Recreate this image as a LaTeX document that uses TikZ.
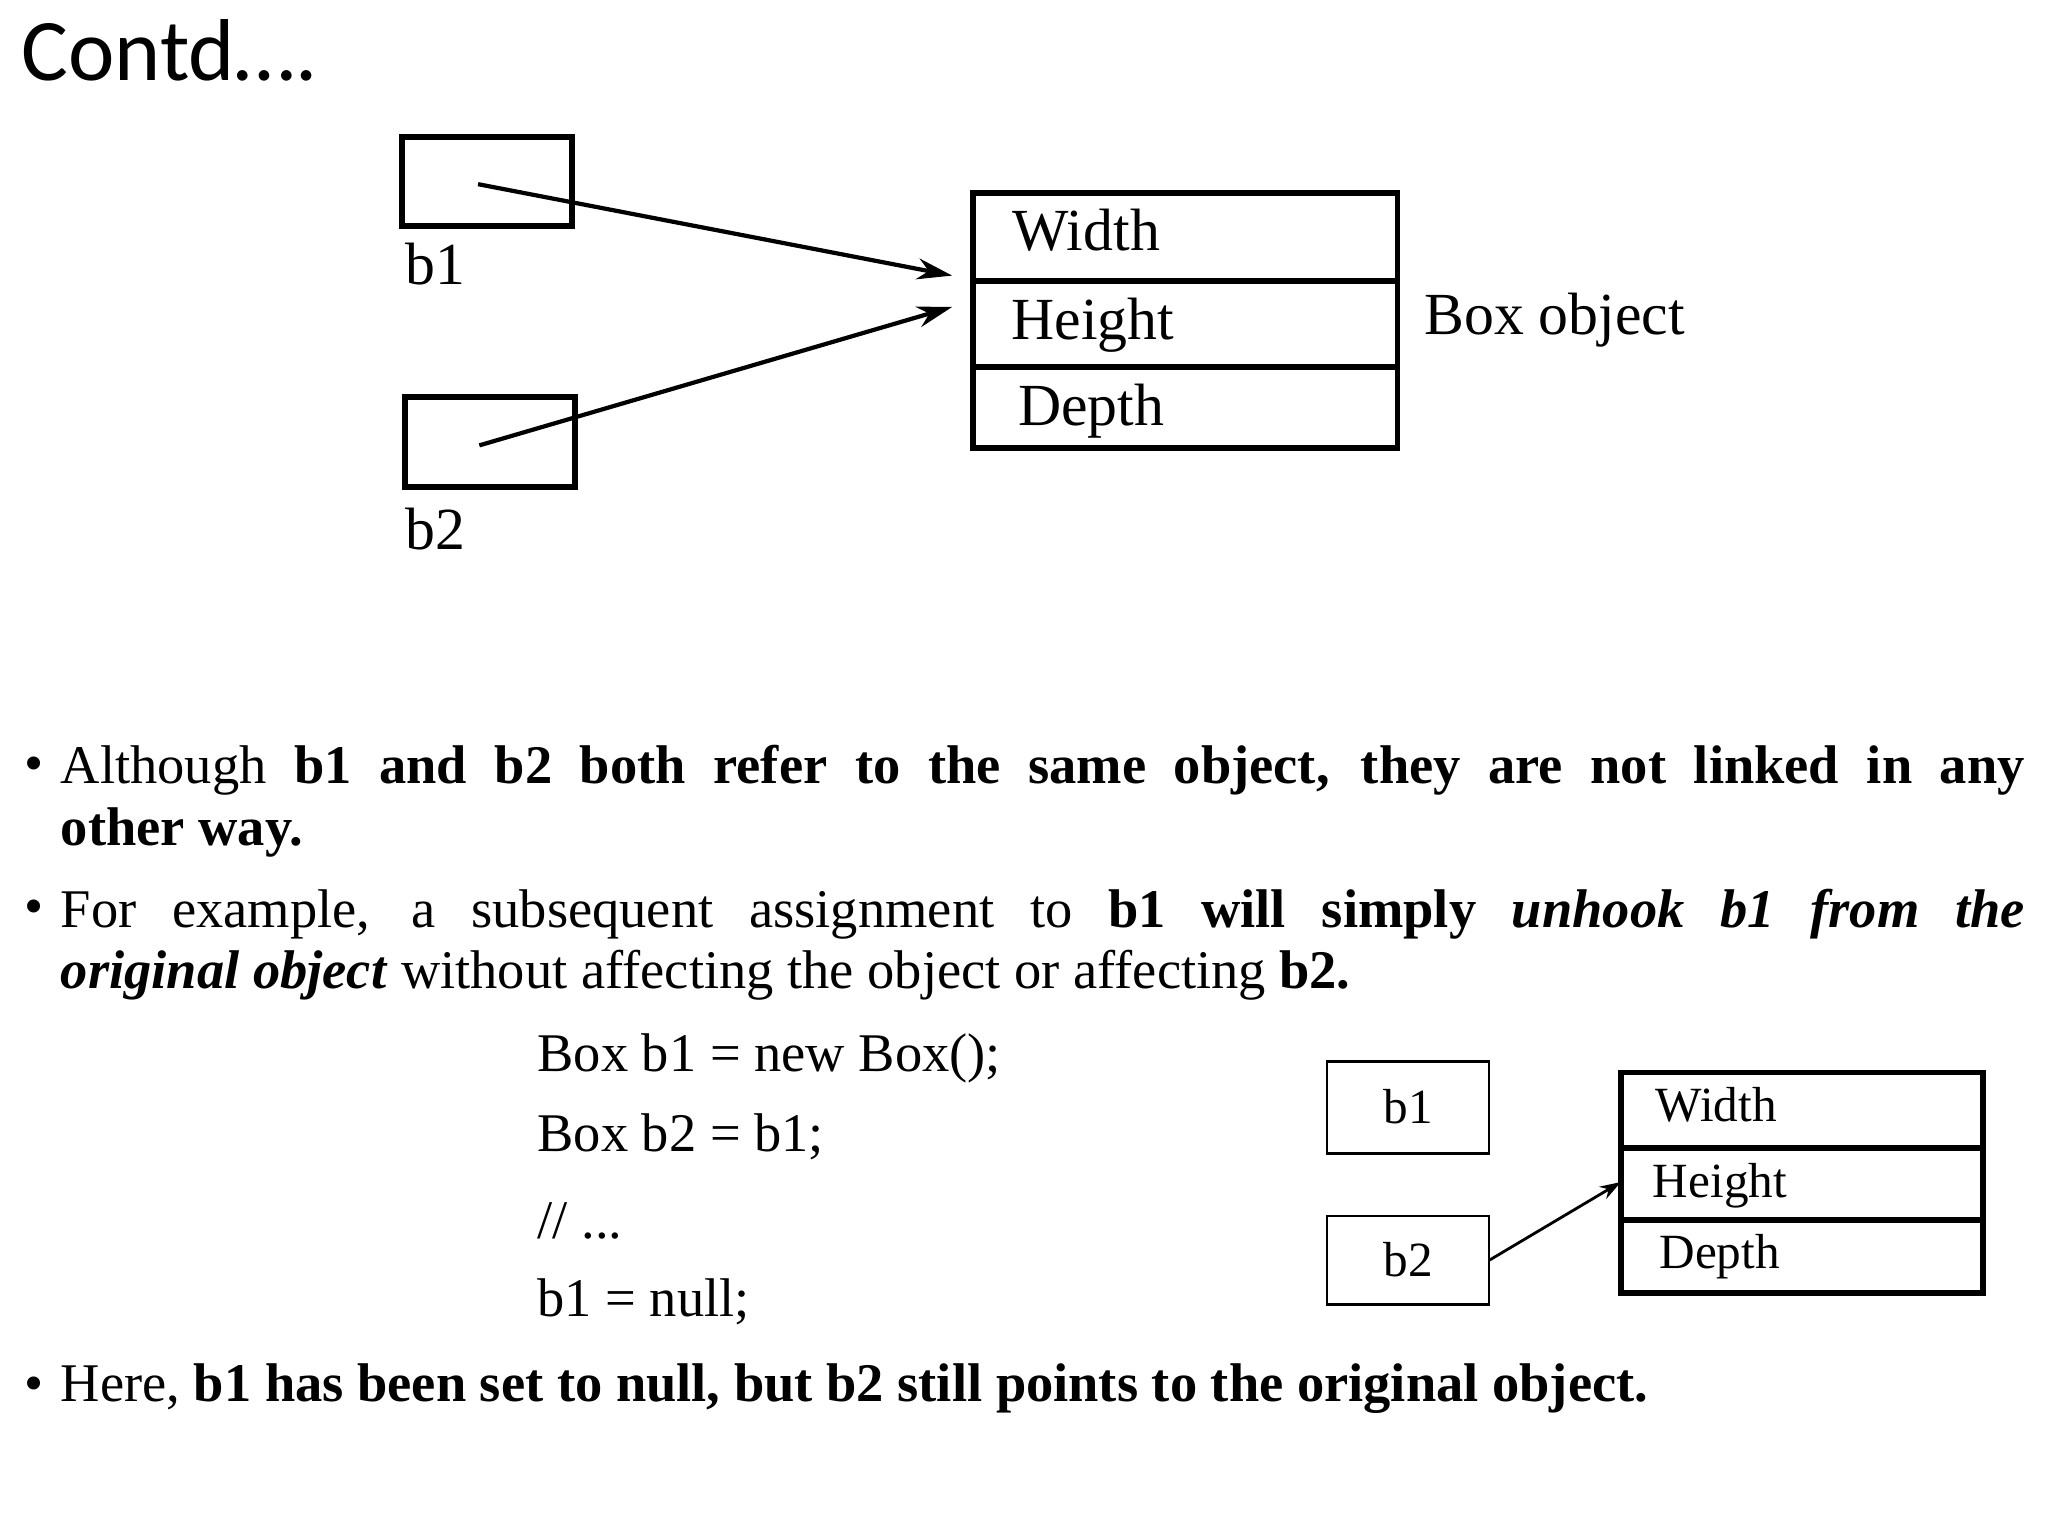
\documentclass[tikz,border=0pt]{standalone}
\usepackage{fontspec}
\setmainfont{Liberation Serif}
\newfontfamily\calib{Carlito}
\usetikzlibrary{arrows.meta}
\begin{document}
\begin{tikzpicture}[x=0.01306cm,y=-0.01306cm,
  bx/.style={draw,line width=1.6pt},
  sbx/.style={draw,line width=0.8pt},
  lab/.style={anchor=base west,inner sep=0pt,font=\fontsize{17}{20}\selectfont},
  slab/.style={anchor=base west,inner sep=0pt,font=\fontsize{14}{17}\selectfont},
  txt/.style={anchor=base west,inner sep=0pt,font=\fontsize{15.5}{17.5}\selectfont},
  bul/.style={anchor=north west,inner sep=0pt,text width=19.64cm,align=justify,font=\fontsize{15.5}{17.5}\selectfont},
  arr/.style={line width=1.2pt,-{Stealth[length=10pt,width=6pt]}}]
\useasboundingbox (0,0) rectangle (1568,1176);
\node[anchor=base west,inner sep=0pt,font=\calib\fontsize{25}{28}\selectfont] (title) at (16,62) {Contd….};
% top diagram
\draw[bx] (308,105) rectangle (438,173);
\draw[bx] (310,304) rectangle (440,373);
\coordinate (s1) at (366,141); \coordinate (s2) at (367,341);
\node[lab] (l1) at (310,218) {b1};
\node[lab] (l2) at (310,421) {b2};
\draw[bx] (745,148) rectangle (1070,343);
\draw[bx] (745,215) -- (1070,215);
\draw[bx] (745,281) -- (1070,281);
\node[lab] (w) at (775,192) {Width};
\node[lab] (h) at (774,260) {Height};
\node[lab] (d) at (779,326) {Depth};
\node[lab] (bo) at (1090,256) {Box object};
\coordinate (t1) at (729,211); \coordinate (t2) at (729,235);
\draw[arr] (s1) -- (t1);
\draw[arr] (s2) -- (t2);
% bullets
\node[txt] (b1d) at (18,598) {•};
\node[bul] (p1) at (46,570) {Although \textbf{b1 and b2 both refer to the same object, they are not linked in any\linebreak other way.}};
\node[txt] (b2d) at (18,708) {•};
\node[bul] (p2) at (46,680) {For example, a subsequent assignment to \textbf{b1 will simply \textit{unhook b1 from the}\linebreak \textit{original object}} without affecting the object or affecting \textbf{b2.}};
\node[txt] (c1) at (411,820) {Box b1 = new Box();};
\node[txt] (c2) at (411,882) {Box b2 = b1;};
\node[txt] (c3) at (411,948) {// ...};
\node[txt] (c4) at (411,1008) {b1 = null;};
\node[txt] (b3d) at (18,1073) {•};
\node[txt] (p3) at (46,1073) {Here, \textbf{b1 has been set to null, but b2 still points to the original object.}};
% small diagram
\draw[sbx] (1016,813) rectangle (1140,883);
\draw[sbx] (1016,931) rectangle (1140,999);
\node[slab] (sb1) at (1059,860) {b1};
\node[slab] (sb2) at (1059,977) {b2};
\draw[bx] (1241,821) rectangle (1518,990);
\draw[bx] (1241,879) -- (1518,879);
\draw[bx] (1241,934) -- (1518,934);
\node[slab] (sw) at (1267,859) {Width};
\node[slab] (sh) at (1265,917) {Height};
\node[slab] (sd) at (1270,971) {Depth};
\coordinate (ss) at (1140,965); \coordinate (st) at (1241,905);
\draw[line width=0.8pt,-{Stealth[length=6pt,width=4pt]}] (ss) -- (st);
\end{tikzpicture}
\end{document}
